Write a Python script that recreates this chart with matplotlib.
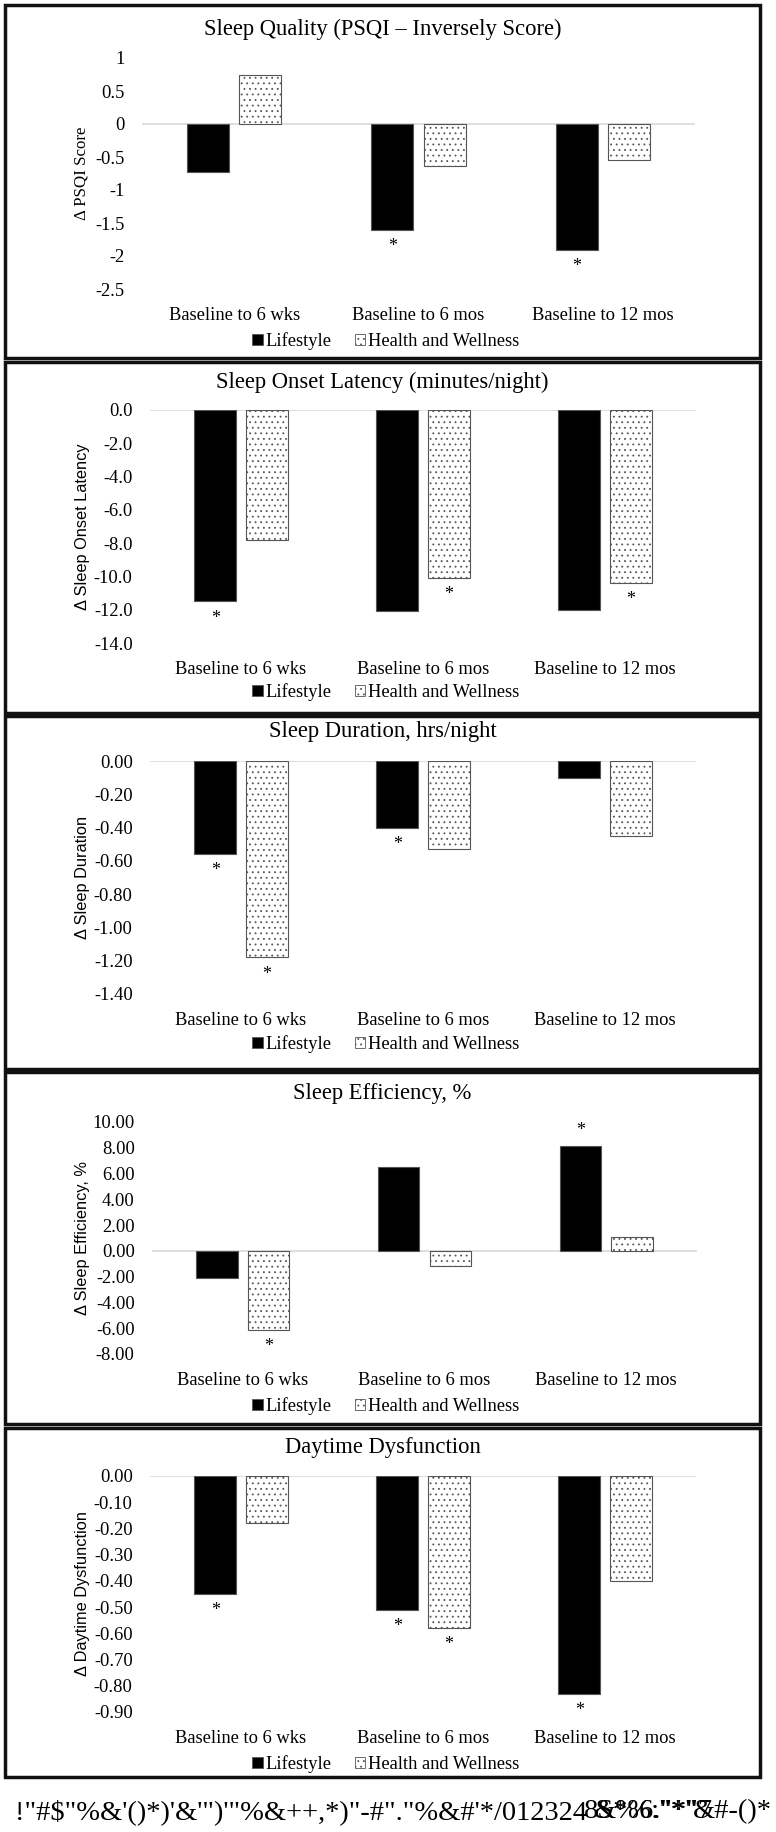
import matplotlib
matplotlib.use("Agg")
import matplotlib.pyplot as plt
from matplotlib.patches import Rectangle, Patch

plt.rcParams['font.family'] = ['Liberation Serif', 'DejaVu Serif']
plt.rcParams['hatch.linewidth'] = 0.6

# categories / groups
categories = ['Baseline to 6 wks', 'Baseline to 6 mos', 'Baseline to 12 mos']
groups = ['Lifestyle', 'Health and Wellness']

titles = ['Sleep Quality (PSQI \u2013 Inversely Score)',
          'Sleep Onset Latency (minutes/night)',
          'Sleep Duration, hrs/night',
          'Sleep Efficiency, %',
          'Daytime Dysfunction']
ylabels = ['\u0394 PSQI Score',
           '\u0394 Sleep Onset Latency',
           '\u0394 Sleep Duration',
           '\u0394 Sleep Efficiency, %',
           '\u0394 Daytime Dysfunction']

# change scores
psqi_lifestyle = [-0.73, -1.60, -1.91]
psqi_wellness = [0.75, -0.63, -0.55]
sol_lifestyle = [-11.5, -12.1, -12.0]
sol_wellness = [-7.8, -10.1, -10.4]
dur_lifestyle = [-0.56, -0.40, -0.10]
dur_wellness = [-1.18, -0.53, -0.45]
eff_lifestyle = [-2.1, 6.5, 8.15]
eff_wellness = [-6.15, -1.15, 1.1]
dd_lifestyle = [-0.45, -0.51, -0.83]
dd_wellness = [-0.18, -0.58, -0.40]

# significance markers (*)
psqi_sig = ([False, True, True], [False, False, False])
sol_sig = ([True, False, False], [False, True, True])
dur_sig = ([True, True, False], [True, False, False])
eff_sig = ([False, False, True], [True, False, False])
dd_sig = ([True, True, True], [False, True, False])

# y tick labels (top to bottom)
psqi_ticks = ['1', '0.5', '0', '-0.5', '-1', '-1.5', '-2', '-2.5']
sol_ticks = ['0.0', '-2.0', '-4.0', '-6.0', '-8.0', '-10.0', '-12.0', '-14.0']
dur_ticks = ['0.00', '-0.20', '-0.40', '-0.60', '-0.80', '-1.00', '-1.20', '-1.40']
eff_ticks = ['10.00', '8.00', '6.00', '4.00', '2.00', '0.00', '-2.00', '-4.00', '-6.00', '-8.00']
dd_ticks = ['0.00', '-0.10', '-0.20', '-0.30', '-0.40', '-0.50', '-0.60', '-0.70', '-0.80', '-0.90']

panels = [
    (psqi_lifestyle, psqi_wellness, psqi_sig, psqi_ticks),
    (sol_lifestyle, sol_wellness, sol_sig, sol_ticks),
    (dur_lifestyle, dur_wellness, dur_sig, dur_ticks),
    (eff_lifestyle, eff_wellness, eff_sig, eff_ticks),
    (dd_lifestyle, dd_wellness, dd_sig, dd_ticks),
]

W, H = 776, 1832
fig = plt.figure(figsize=(W / 100, H / 100), dpi=100)

# layout in pixels: (panel top, panel bottom, axes top, axes bottom, title y, legend y, axes left, axes right)
layout = [
    (5, 358, 58, 289, 29, 341, 142, 695),
    (362, 713, 410, 643, 382, 692, 150, 696),
    (716, 1069, 761, 994, 732, 1044, 150, 696),
    (1072, 1424, 1122, 1354, 1094, 1406, 152, 697),
    (1428, 1777, 1476, 1712, 1447, 1764, 150, 696),
]
ylabel_fonts = ['Liberation Serif', 'Liberation Sans', 'Liberation Sans',
                'Liberation Sans', 'Liberation Sans']
x = [0, 1, 2]
bw = 0.227
off = 0.142


def fy(py):
    return 1 - py / H


for (life, well, sig, ticks), title, ylab, yfont, (pt, pb, at, ab, ty, ly, al, ar) in zip(
        panels, titles, ylabels, ylabel_fonts, layout):
    fig.add_artist(Rectangle((5 / W, fy(pb)), (760 - 5) / W, (pb - pt) / H,
                             transform=fig.transFigure, fill=False, lw=2.5, ec='#111111'))
    ax = fig.add_axes([al / W, fy(ab), (ar - al) / W, (ab - at) / H])
    vals = [float(t) for t in ticks]
    ax.set_ylim(min(vals), max(vals))
    ax.set_xlim(-0.5, 2.5)
    ax.set_yticks(vals)
    ax.set_yticklabels(ticks, fontsize=13.3)
    ax.set_xticks(x)
    ax.set_xticklabels(categories, fontsize=13.3)
    ax.tick_params(length=0)
    ax.tick_params(axis='y', pad=12.5)
    ax.tick_params(axis='x', pad=13)
    for s in ax.spines.values():
        s.set_visible(False)
    ax.axhline(0, color='#d9d9d9', lw=1.2, zorder=0)

    b1 = ax.bar([i - off for i in x], life, bw, color='black', edgecolor='#555555', lw=0.8,
                label=groups[0])
    b2 = ax.bar([i + off for i in x], well, bw, color='white', edgecolor='#555555', lw=0.8,
                hatch='...', label=groups[1])

    for bars, vs, flags in ((b1, life, sig[0]), (b2, well, sig[1])):
        for bar, v, f in zip(bars, vs, flags):
            if not f:
                continue
            cx = bar.get_x() + bar.get_width() / 2
            dy = -12 if v < 0 else 11
            ax.annotate('*', (cx, v), xytext=(0, dy), textcoords='offset points',
                        ha='center', va='center', fontsize=13)

    ysize = 12.2 if yfont == 'Liberation Serif' else 11.8
    ax.set_ylabel(ylab, family=[yfont, 'DejaVu Sans'], fontsize=ysize, va='center')
    ax.yaxis.set_label_coords((82 - al) / (ar - al), 0.5)

    fig.text(0.493, fy(ty), title, ha='center', va='center', fontsize=16.3)

    handles = [Patch(facecolor='black', edgecolor='#555555', lw=0.6),
               Patch(facecolor='white', edgecolor='#555555', lw=0.6, hatch='...')]
    fig.legend(handles, groups, loc='center', bbox_to_anchor=(386 / W, fy(ly)),
               ncol=2, frameon=False, fontsize=13.3, handlelength=0.55, handleheight=0.6,
               handletextpad=0.18, columnspacing=1.25, borderpad=0, borderaxespad=0)

# garbled caption line under the figure
fig.text(15 / W, fy(1812), '!"#$"%&\'()*)\'&\'")\'"%&++,*)"-#"."%&#\'*/012324',
         ha='left', va='center', fontsize=20.5)
fig.text(584 / W, fy(1812), '8S*%:"*"', ha='left', va='center', fontsize=20.5)
fig.text(594 / W, fy(1812), '&%6."*"7', ha='left', va='center', fontsize=20.5)
fig.text(772 / W, fy(1812), '&#-()*', ha='right', va='center', fontsize=20.5)

fig.savefig('out.png', dpi=100)
